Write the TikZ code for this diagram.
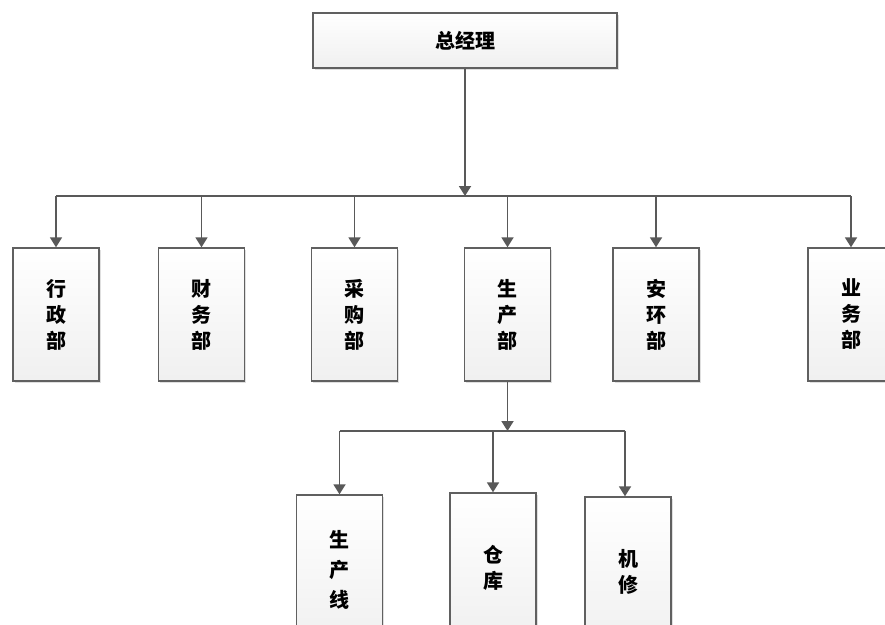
\documentclass[tikz,border=0pt]{standalone}
\usepackage{fontspec}
\newfontfamily\cjk{Noto Sans CJK SC}[BoldFont={Noto Sans CJK SC Black}]
\usetikzlibrary{arrows.meta,shadows}
\begin{document}
\begin{tikzpicture}[x=1pt,y=-1pt,
  box/.style={draw=gray!75!black,line width=1.4pt,top color=white,bottom color=gray!12,
    drop shadow={shadow xshift=1.5pt,shadow yshift=-1.5pt,opacity=0.25},
    minimum width=86pt,minimum height=133pt,inner sep=0pt,
    font=\cjk\bfseries\fontsize{20}{26}\selectfont,align=center,text=black},
  line/.style={draw=black!65,line width=1.8pt},
  arr/.style={line,-{Triangle[width=12pt,length=10pt]}}]
\useasboundingbox (0,0) rectangle (885,624);
\clip (0,0) rectangle (885,624);
\fill[white] (0,0) rectangle (885,624);
\node[box,minimum width=304pt,minimum height=55pt] (gm) at (465,40.5) {总经理};
\node[box] (d1) at (56,314.5) {行\\政\\部};
\node[box] (d2) at (201.5,314.5) {财\\务\\部};
\node[box] (d3) at (354.5,314.5) {采\\购\\部};
\node[box] (d4) at (507.5,314.5) {生\\产\\部};
\node[box] (d5) at (656,314.5) {安\\环\\部};
\node[box] (d6) at (851,314.5) {业\\务\\部};
\node[box,minimum height=150pt,font=\cjk\bfseries\fontsize{20}{30}\selectfont] (s1) at (339.5,570) {生\\产\\线};
\node[box,minimum height=150pt] (s2) at (493,568) {仓\\库};
\node[box,minimum height=150pt] (s3) at (628,572) {机\\修};
\coordinate (bar) at (465,196);
\coordinate (bar2) at (507.5,431);
\draw[arr] (gm.south) -- (bar);
\draw[line] (bar -| d1.north) -- (bar -| d6.north);
\foreach \d in {d1,d2,d3,d4,d5,d6} \draw[arr] (bar -| \d.north) -- (\d.north);
\draw[arr] (d4.south) -- (bar2);
\draw[line] (bar2 -| s1.north) -- (bar2 -| 625,0);
\draw[arr] (bar2 -| s1.north) -- (s1.north);
\draw[arr] (bar2 -| s2.north) -- (s2.north);
\draw[arr] (625,431) -- (s3.north -| 625,0);
\end{tikzpicture}
\end{document}
